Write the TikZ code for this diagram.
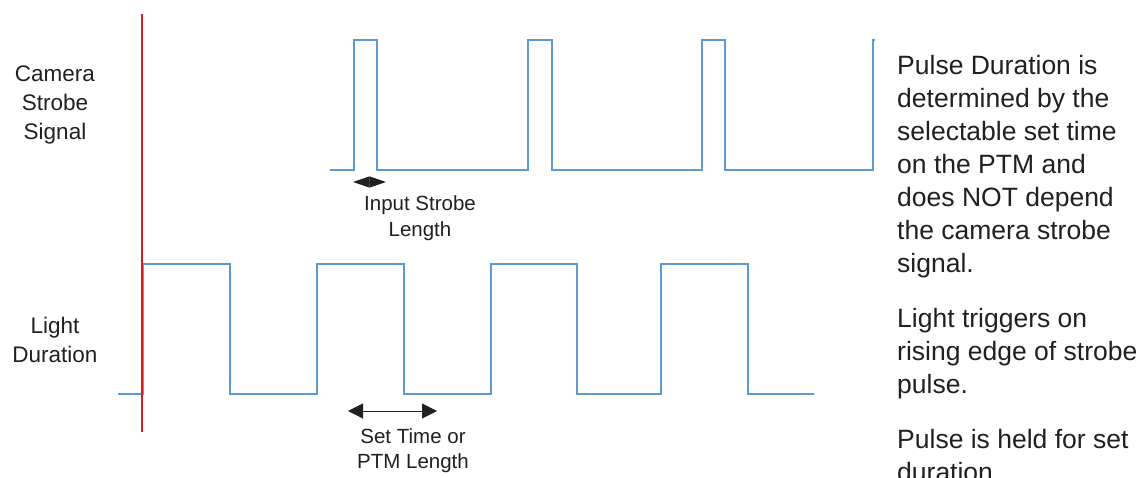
\documentclass[tikz,border=0pt]{standalone}
\usepackage{fontspec}
\setmainfont{Liberation Sans}
\usetikzlibrary{arrows.meta}
\definecolor{sig}{RGB}{91,155,213}
\definecolor{marker}{RGB}{210,30,40}
\definecolor{ink}{RGB}{35,31,32}
\begin{document}
\begin{tikzpicture}[x=1pt,y=-1pt,
  sigline/.style={sig,line width=1.6pt,line join=miter},
  markline/.style={marker,line width=1.3pt},
  dimarrow/.style={ink,line width=1pt},
  smalltxt/.style={ink,inner sep=0,anchor=base,font=\fontsize{20.5}{26}\selectfont},
  labeltxt/.style={ink,inner sep=0,anchor=base,font=\fontsize{22.5}{29}\selectfont},
  notetxt/.style={ink,inner sep=0,anchor=base west,font=\fontsize{26.5}{33}\selectfont}]
\useasboundingbox (0,0) rectangle (1147,477);

% camera strobe signal
\draw[sigline] (330,170) -- (354,170) -- (354,40) -- (377,40) -- (377,170)
  -- (528,170) -- (528,40) -- (552,40) -- (552,170)
  -- (702,170) -- (702,40) -- (725,40) -- (725,170)
  -- (873,170) -- (873,40) -- (875,40);

% light duration signal
\draw[sigline] (118,394) -- (143,394) -- (143,264) -- (230,264) -- (230,394)
  -- (317,394) -- (317,264) -- (404,264) -- (404,394)
  -- (491,394) -- (491,264) -- (577,264) -- (577,394)
  -- (661,394) -- (661,264) -- (748,264) -- (748,394) -- (814,394);

% trigger marker
\coordinate (mtop) at (142,14);
\coordinate (mbot) at (142,432);
\draw[markline] (mtop) -- (mbot);

% dimension arrows
\coordinate (isl) at (353,182);
\coordinate (isr) at (386,182);
\draw[dimarrow,{Triangle[length=16.5pt,width=11pt]}-{Triangle[length=16.5pt,width=11pt]}] (isl) -- (isr);
\coordinate (stl) at (348,411);
\coordinate (str) at (437,411);
\draw[dimarrow,{Triangle[length=15pt,width=15pt]}-{Triangle[length=15pt,width=15pt]}] (stl) -- (str);

% arrow labels
\node[smalltxt] (is1) at (420,210) {Input Strobe};
\node[smalltxt] (is2) at (420,236) {Length};
\node[smalltxt] (st1) at (413,443) {Set Time or};
\node[smalltxt] (st2) at (413,468) {PTM Length};

% signal labels
\node[labeltxt] (c1) at (55,81) {Camera};
\node[labeltxt] (c2) at (55,110) {Strobe};
\node[labeltxt] (c3) at (55,139) {Signal};
\node[labeltxt] (l1) at (55,333) {Light};
\node[labeltxt] (l2) at (55,362) {Duration};

% notes
\node[notetxt] (n1) at (897,74) {Pulse Duration is};
\node[notetxt] (n2) at (897,107) {determined by the};
\node[notetxt] (n3) at (897,140) {selectable set time};
\node[notetxt] (n4) at (897,173) {on the PTM and};
\node[notetxt] (n5) at (897,206) {does NOT depend};
\node[notetxt] (n6) at (897,239) {the camera strobe};
\node[notetxt] (n7) at (897,272) {signal.};
\node[notetxt] (n8) at (897,327) {Light triggers on};
\node[notetxt] (n9) at (897,360) {rising edge of strobe};
\node[notetxt] (n10) at (897,393) {pulse.};
\node[notetxt] (n11) at (897,448) {Pulse is held for set};
\node[notetxt] (n12) at (897,481) {duration.};
\end{tikzpicture}
\end{document}
